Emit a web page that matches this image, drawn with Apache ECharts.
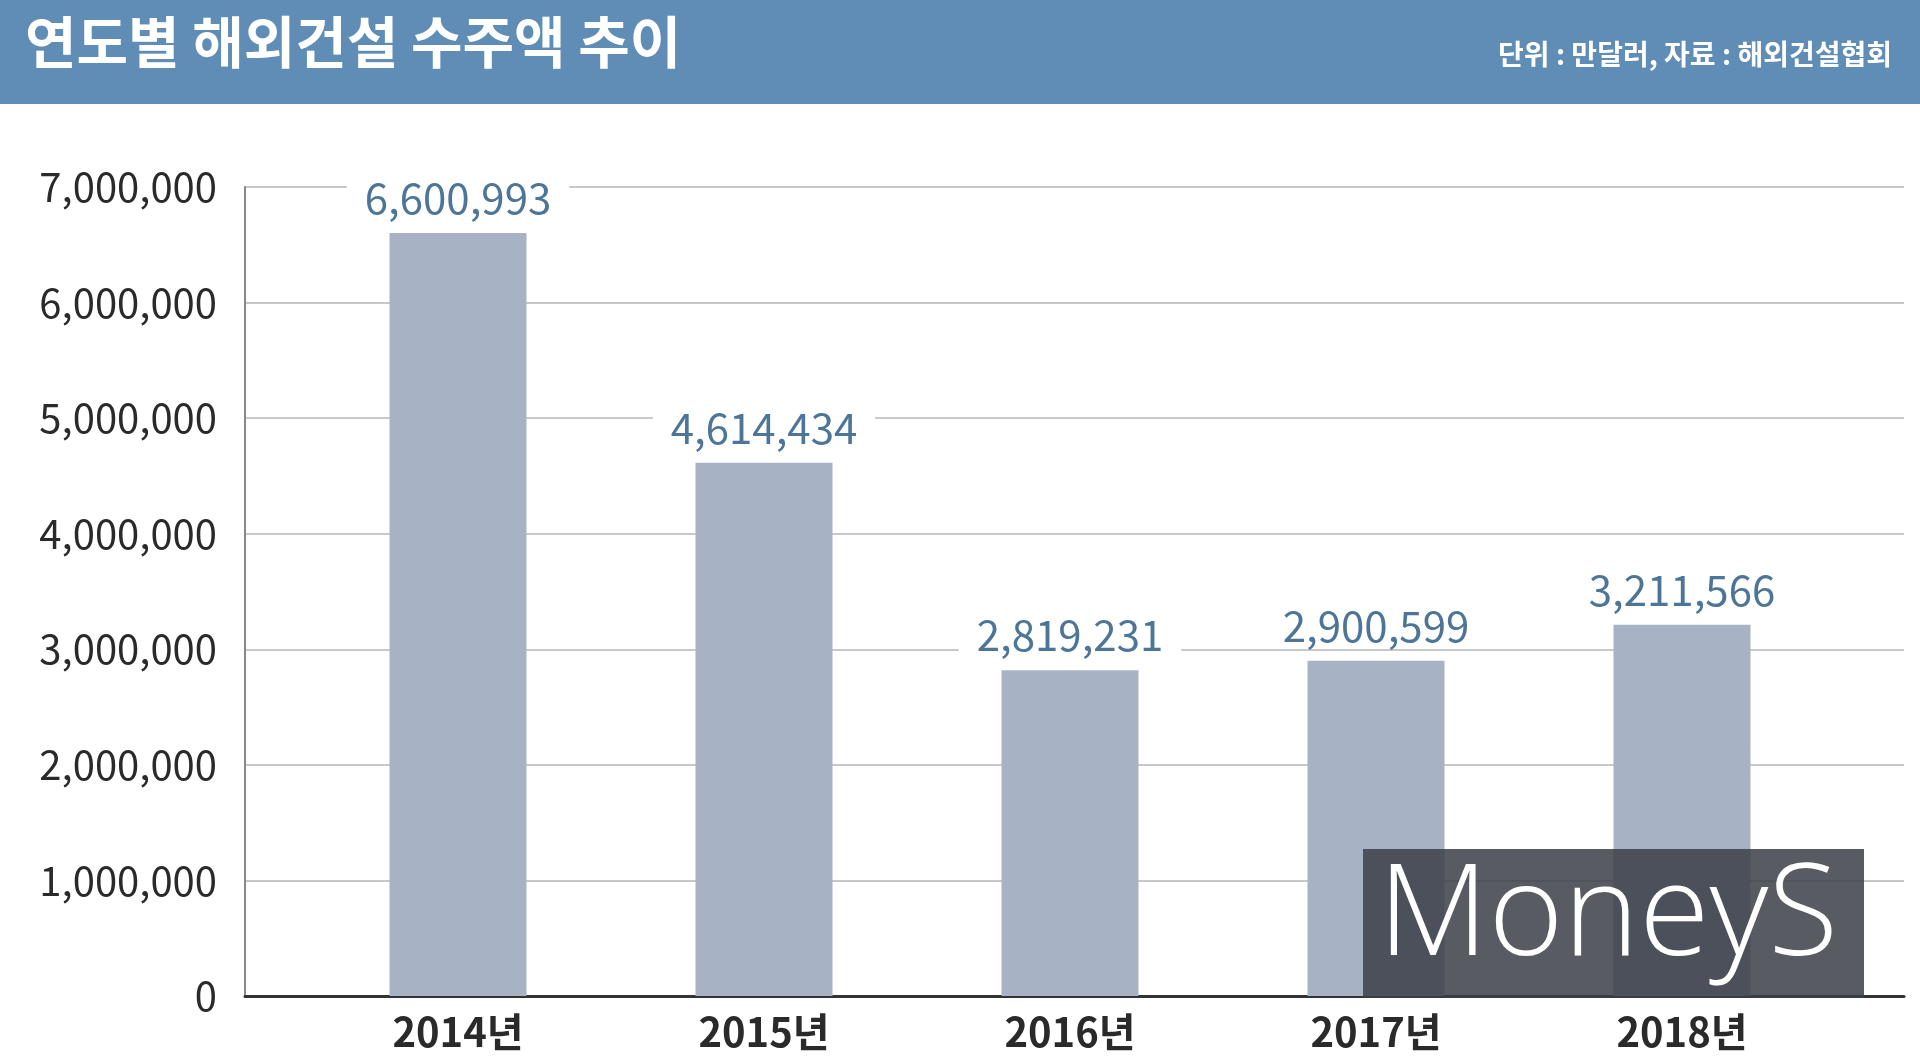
<!DOCTYPE html><html><head><meta charset="utf-8">
<script src="https://cdn.jsdelivr.net/npm/echarts@6/dist/echarts.min.js"></script>
<style>html,body{margin:0;padding:0;background:#fff}#c{width:1920px;height:1059px}</style></head>
<body><div id="c"></div><script>
const categories=['2014년','2015년','2016년','2017년','2018년'];
const values=[6600993,4614434,2819231,2900599,3211566];
const title='연도별 해외건설 수주액 추이';
const note='단위 : 만달러, 자료 : 해외건설협회';
const F='"Noto Sans CJK KR", "Noto Sans", sans-serif';
const chart=echarts.init(document.getElementById('c'));
chart.setOption({
 backgroundColor:'#fff',animation:false,
 grid:[{left:305,right:85,top:187,bottom:63},{left:245,right:16,top:187,bottom:63}],
 xAxis:[{type:'category',data:categories,gridIndex:0,axisTick:{show:false},axisLine:{show:false},
   axisLabel:{color:'#2a2a2a',fontFamily:F,fontSize:40,fontWeight:'bold',margin:16}},
  {type:'value',gridIndex:1,show:true,min:0,max:1,axisLabel:{show:false},splitLine:{show:false},axisTick:{show:false},
   axisLine:{show:true,onZero:false,lineStyle:{color:'#333',width:3}}}],
 yAxis:[{type:'value',gridIndex:0,min:0,max:7000000,interval:1000000,show:false,splitLine:{show:false}},
  {type:'value',gridIndex:1,min:0,max:7000000,interval:1000000,
   axisLine:{show:true,lineStyle:{color:'#888',width:2}},axisTick:{show:false},
   splitLine:{lineStyle:{color:'#c8c8c8',width:2}},
   axisLabel:{color:'#2a2a2a',fontFamily:F,fontSize:40,margin:28,formatter:v=>v.toLocaleString('en-US')}}],
 series:[{type:'bar',xAxisIndex:0,yAxisIndex:0,data:values,barWidth:137,z:3,
   itemStyle:{color:'#a8b2c5'},
   label:{show:true,position:'top',distance:14,color:'#4d7597',fontFamily:F,fontSize:42,
     backgroundColor:'#fff',padding:[0,18,0,18],formatter:p=>p.value.toLocaleString('en-US')}}],
 graphic:[
  {type:'rect',shape:{x:0,y:0,width:1920,height:104},style:{fill:'#5f8db5'},z:10},
  {type:'text',left:25,top:14,z:11,style:{text:title,fill:'#fff',font:'bold 56px '+F}},
  {type:'text',right:28,top:40,z:11,style:{text:note,fill:'#fff',font:'bold 28px '+F}},
  {type:'rect',shape:{x:1363,y:849,width:501,height:149},style:{fill:'rgba(60,62,70,0.85)'},z:10},
  {type:'text',left:1378,top:855,z:11,style:{text:'MoneyS',fill:'#fff',font:'200 128px "Open Sans", sans-serif'}}
 ]
});
</script></body></html>
